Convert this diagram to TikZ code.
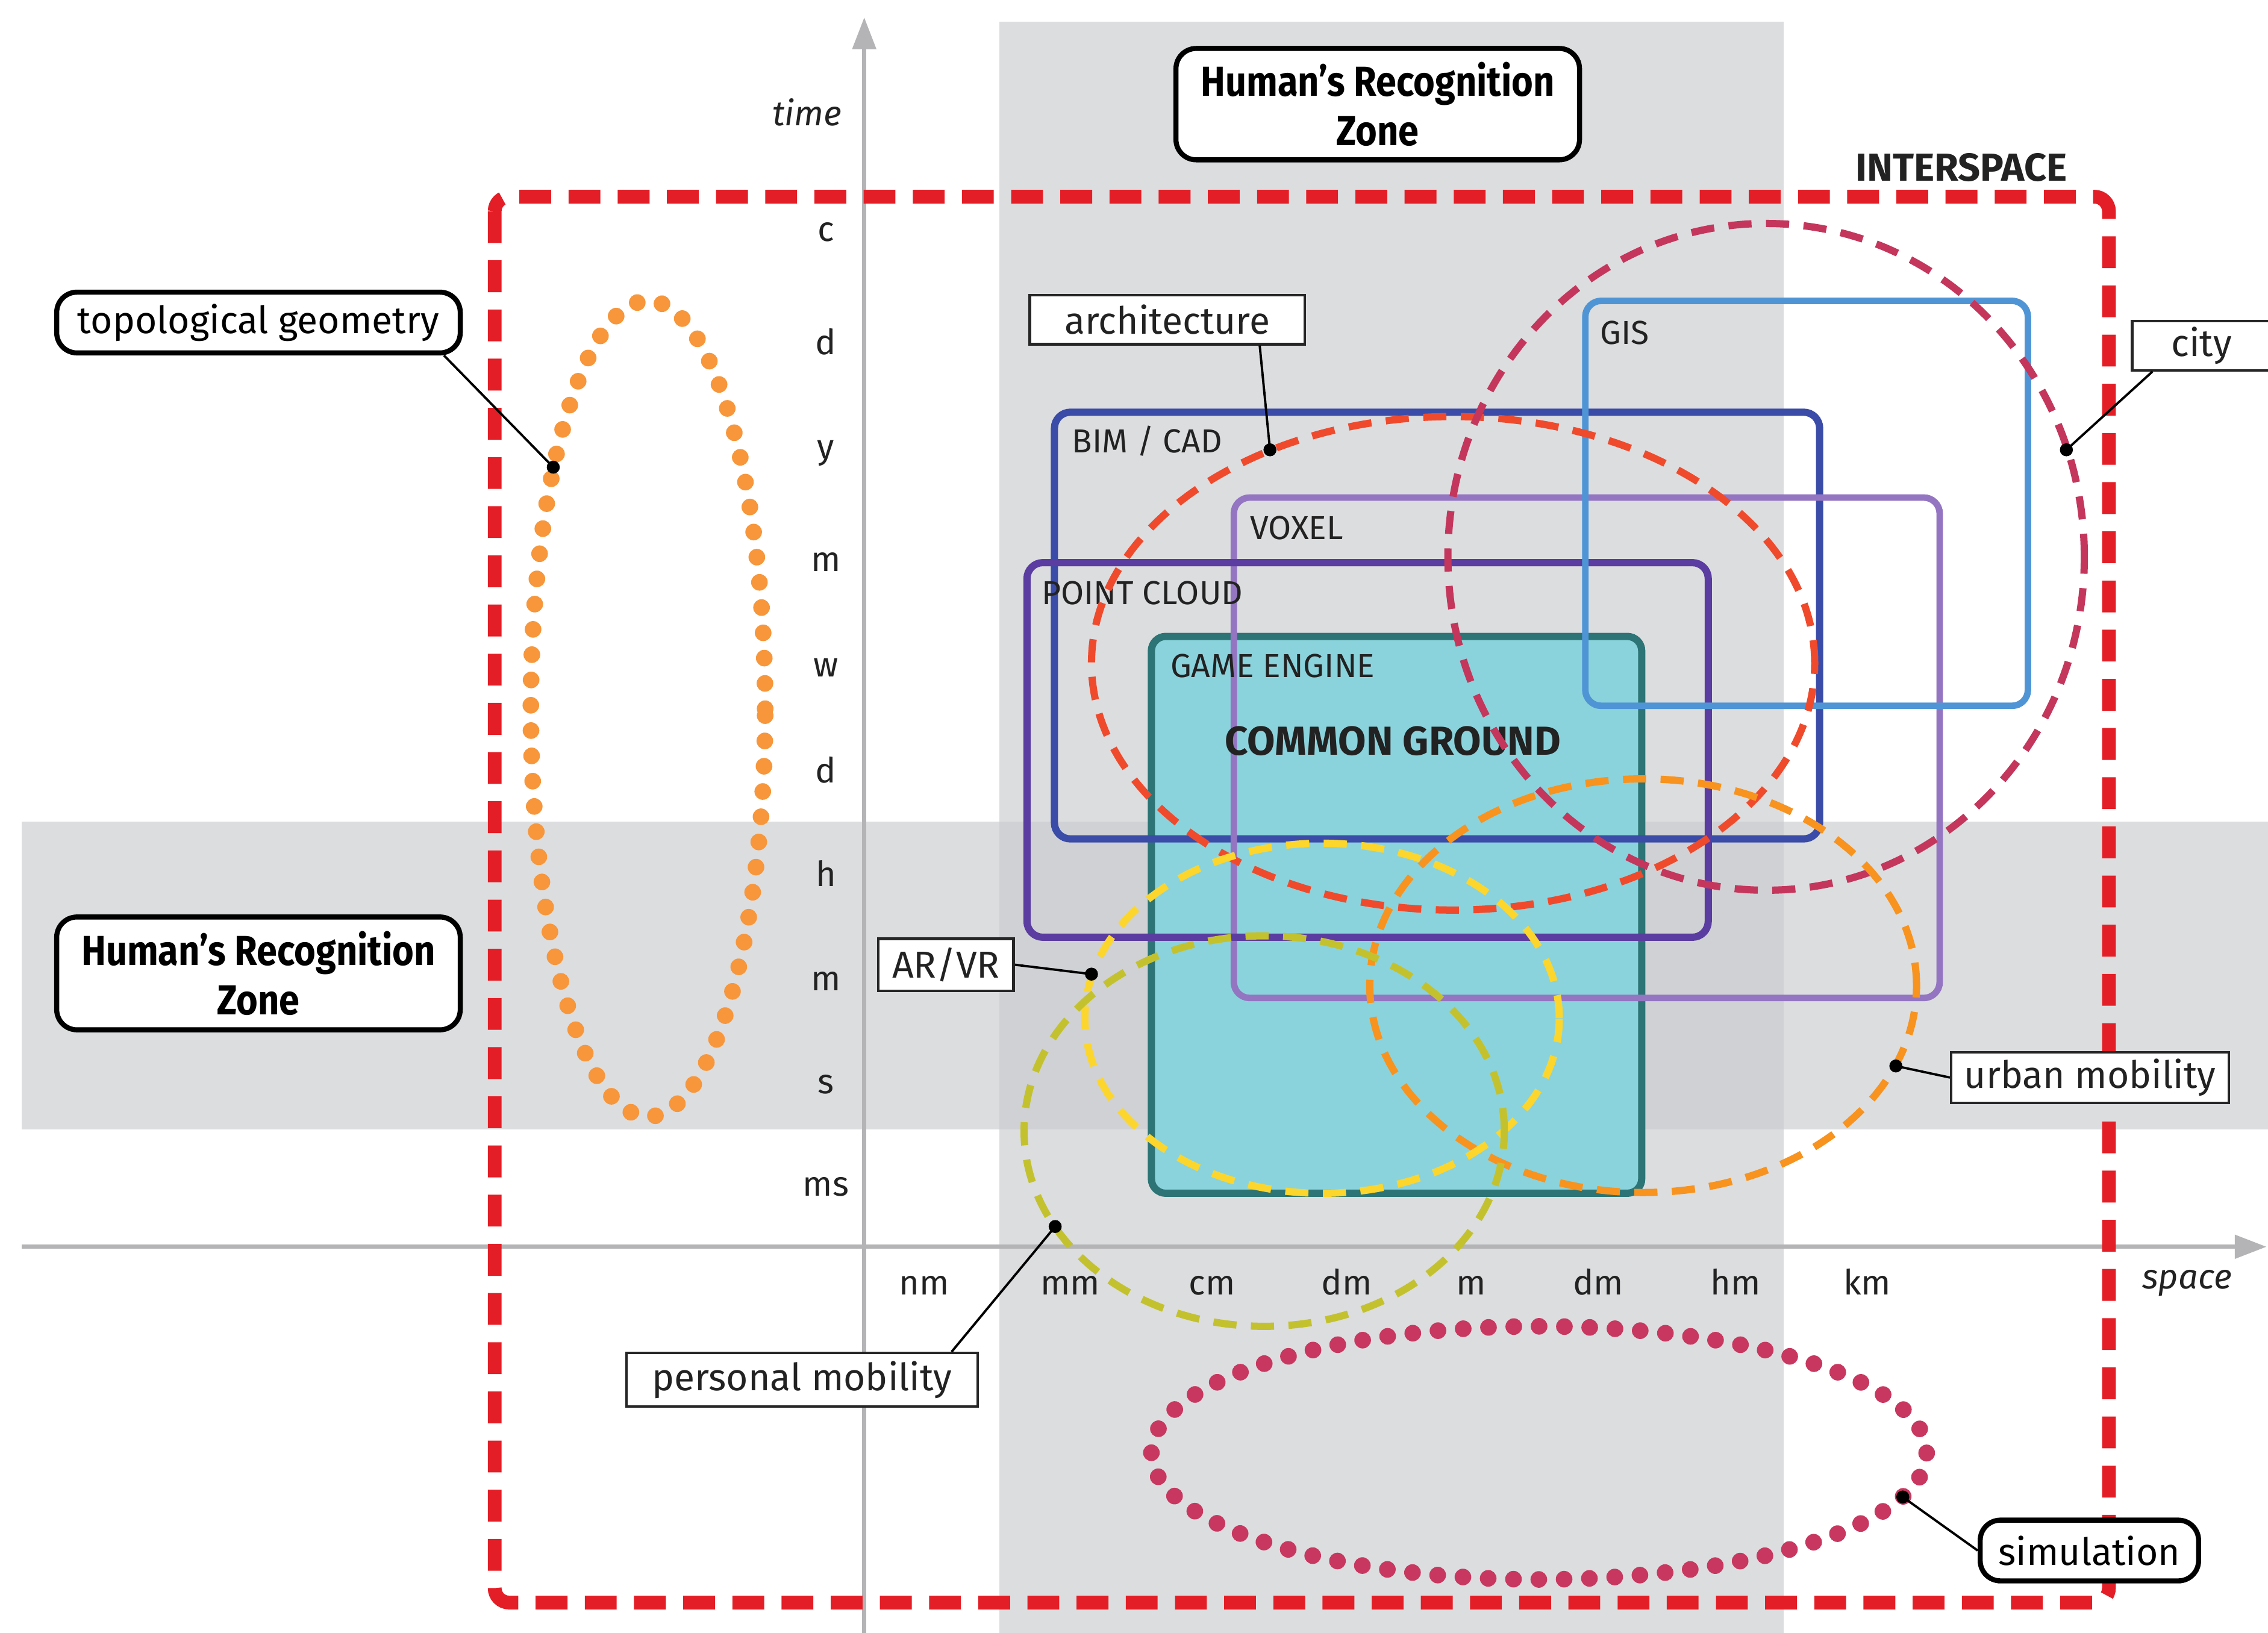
\documentclass[tikz,border=0pt]{standalone}
\usepackage{fontspec}
\setmainfont{Fira Sans}
\newfontfamily\hrzfont[FakeStretch=0.88]{Fira Sans}
\usetikzlibrary{arrows.meta}
\definecolor{ired}{HTML}{E41E26}
\definecolor{bimblue}{HTML}{3A4CA8}
\definecolor{pcpurple}{HTML}{5B3CA0}
\definecolor{voxpurple}{HTML}{9475C2}
\definecolor{gisblue}{HTML}{4F95D6}
\definecolor{tealfill}{HTML}{8BD3DC}
\definecolor{tealline}{HTML}{2C7475}
\definecolor{archred}{HTML}{F04A2C}
\definecolor{citycrim}{HTML}{C4365C}
\definecolor{urborange}{HTML}{F7931E}
\definecolor{aryellow}{HTML}{FCD62C}
\definecolor{pmolive}{HTML}{C3C22E}
\definecolor{topoorange}{HTML}{F7963A}
\definecolor{simcrim}{HTML}{C8375F}
\definecolor{axisgray}{HTML}{B4B4B6}
\definecolor{bandgray}{RGB}{202,203,207}
\definecolor{txt}{HTML}{222222}
\tikzset{
  bandfill/.style={fill=bandgray, fill opacity=0.65, draw=none},
  axisline/.style={draw=axisgray, line width=3pt, -{Triangle[width=16pt,length=22pt]}},
  ticklbl/.style={font=\fontsize{24}{28}\selectfont, text=txt, anchor=base, inner sep=0pt},
  axlbl/.style={font=\fontsize{24}{28}\selectfont\itshape, text=txt, anchor=base, inner sep=0pt},
  roundlbl/.style={draw=black, line width=3.5pt, rounded corners=14pt, fill=white, align=center, inner sep=0pt, text=black},
  hrz/.style={font=\hrzfont\bfseries\fontsize{29}{34}\selectfont},
  sqlbl/.style={draw=black!85, line width=1.8pt, fill=white, font=\fontsize{26}{30}\selectfont, inner sep=0pt, text=txt},
  zone/.style={rounded corners=11pt, line width=5pt},
  zonelbl/.style={font=\fontsize{23}{27}\selectfont, anchor=base west, inner sep=0pt, text=txt},
  dashell/.style={line width=5pt, dash pattern=on 16pt off 10pt},
  dotell/.style={line width=11.5pt, line cap=round, dash pattern=on 0pt off 17.5pt},
  leadline/.style={draw=black, line width=1.6pt},
}
\begin{document}
\begin{tikzpicture}[x=1pt,y=-1pt]
\useasboundingbox (0,0) rectangle (1568,1129);
\fill[white] (0,0) rectangle (1568,1129);
% bands
\fill[bandfill] (691,15) rectangle (1233,1129);
\fill[bandfill] (15,568) rectangle (1568,781);
% axes
\coordinate (tB) at (597.5,1129);
\coordinate (tT) at (597.5,12);
\coordinate (sL) at (15,862);
\coordinate (sR) at (1567,862);
\draw[axisline] (tB) -- (tT);
\draw[axisline] (sL) -- (sR);
\node[axlbl] (timelbl) at (558,87) {time};
\node[axlbl] (spacelbl) at (1512,891) {space};
\foreach \t/\yy in {c/167, d/245, y/317, m/395, w/468, d/541, h/613, m/685, s/756, ms/827}
  \node[ticklbl] (t\yy) at (571,\yy) {\t};
\foreach \s/\xx in {nm/639, mm/740, cm/838, dm/931, m/1017, dm/1105, hm/1200, km/1291}
  \node[ticklbl] (s\xx) at (\xx,895) {\s};
% interspace
\draw[ired, line width=9.5pt, dash pattern=on 22pt off 12pt, rounded corners=10pt] (342,136) rectangle (1458,1108);
\node[font=\fontsize{27}{30}\selectfont\bfseries, anchor=base, inner sep=0pt, text=txt] (inter) at (1356,125) {INTERSPACE};
% dotted ellipses
\draw[dotell, topoorange] (448,490) ellipse [x radius=81pt, y radius=282pt];
\draw[dotell, simcrim] (1064,1004.5) ellipse [x radius=268pt, y radius=87.5pt];
% game engine
\draw[tealline, fill=tealfill, line width=5pt, rounded corners=10pt] (796,440) rectangle (1135,825);
% rectangles
\draw[zone, bimblue] (729,285) rectangle (1258,580);
\draw[zone, voxpurple, line width=4.5pt] (853,344) rectangle (1341,690);
\draw[zone, pcpurple] (710,389) rectangle (1181,648);
\draw[zone, gisblue, line width=4.5pt] (1096,208) rectangle (1402,488);
\node[zonelbl] (bimlbl) at (741,313) {BIM / CAD};
\node[zonelbl] (voxlbl) at (864,373) {VOXEL};
\node[zonelbl] (pclbl) at (720,418) {POINT CLOUD};
\node[zonelbl] (gislbl) at (1106,238) {GIS};
\node[zonelbl] (gelbl) at (809,468.5) {GAME ENGINE};
\node[font=\fontsize{28}{32}\selectfont\bfseries, anchor=base, inner sep=0pt, text=txt] (cglbl) at (963,522) {COMMON GROUND};
% dashed ellipses
\draw[dashell, archred] (1004.6,458.6) ellipse [x radius=250pt, y radius=170.6pt];
\draw[dashell, citycrim] (1221,385) ellipse [x radius=220pt, y radius=230.5pt];
\draw[dashell, urborange] (1136,681.5) ellipse [x radius=189pt, y radius=143pt];
\draw[dashell, aryellow] (914,704) ellipse [x radius=164pt, y radius=121pt];
\draw[dashell, pmolive] (874,782) ellipse [x radius=166pt, y radius=135pt];
% label boxes
\node[roundlbl, hrz, minimum width=279pt, minimum height=77pt] (hrzTop) at (952.5,72) {Human’s Recognition\\Zone};
\node[roundlbl, hrz, minimum width=279pt, minimum height=78pt] (hrzLeft) at (178.7,673) {Human’s Recognition\\Zone};
\node[roundlbl, font=\fontsize{26}{30}\selectfont, minimum width=279pt, minimum height=42pt] (topo) at (178.7,223) {topological geometry};
\node[roundlbl, font=\fontsize{26}{30}\selectfont, minimum width=151pt, minimum height=42pt] (sim) at (1444.5,1072) {simulation};
\node[sqlbl, minimum width=190pt, minimum height=34pt] (arch) at (807,221) {architecture};
\node[sqlbl, minimum width=96pt, minimum height=34pt] (city) at (1522,239) {city};
\node[sqlbl, minimum width=93.5pt, minimum height=36pt] (arvr) at (654,667) {AR/VR};
\node[sqlbl, minimum width=192pt, minimum height=35pt] (urban) at (1445,745) {urban mobility};
\node[sqlbl, minimum width=243pt, minimum height=37pt] (pm) at (554.5,954) {personal mobility};
% leader dots
\coordinate (dTopo) at (382.5,323);
\coordinate (dArch) at (878,311);
\coordinate (dCity) at (1428.6,311);
\coordinate (dArvr) at (754.6,673.5);
\coordinate (dUrban) at (1310.7,737);
\coordinate (dPm) at (729.5,848);
\coordinate (dSim) at (1315.5,1035);
\draw[leadline] ([xshift=-13pt]topo.south east) -- (dTopo);
\draw[leadline] ([xshift=-32pt]arch.south east) -- (dArch);
\draw[leadline] ([xshift=15pt]city.south west) -- (dCity);
\draw[leadline] (arvr.east) -- (dArvr);
\draw[leadline] (urban.west) -- (dUrban);
\draw[leadline] ([xshift=-19pt]pm.north east) -- (dPm);
\draw[leadline] (sim.west) -- (dSim);
\foreach \d in {dTopo,dArch,dCity,dArvr,dUrban,dPm,dSim}
  \fill[black] (\d) circle (4.5pt);
\end{tikzpicture}
\end{document}
